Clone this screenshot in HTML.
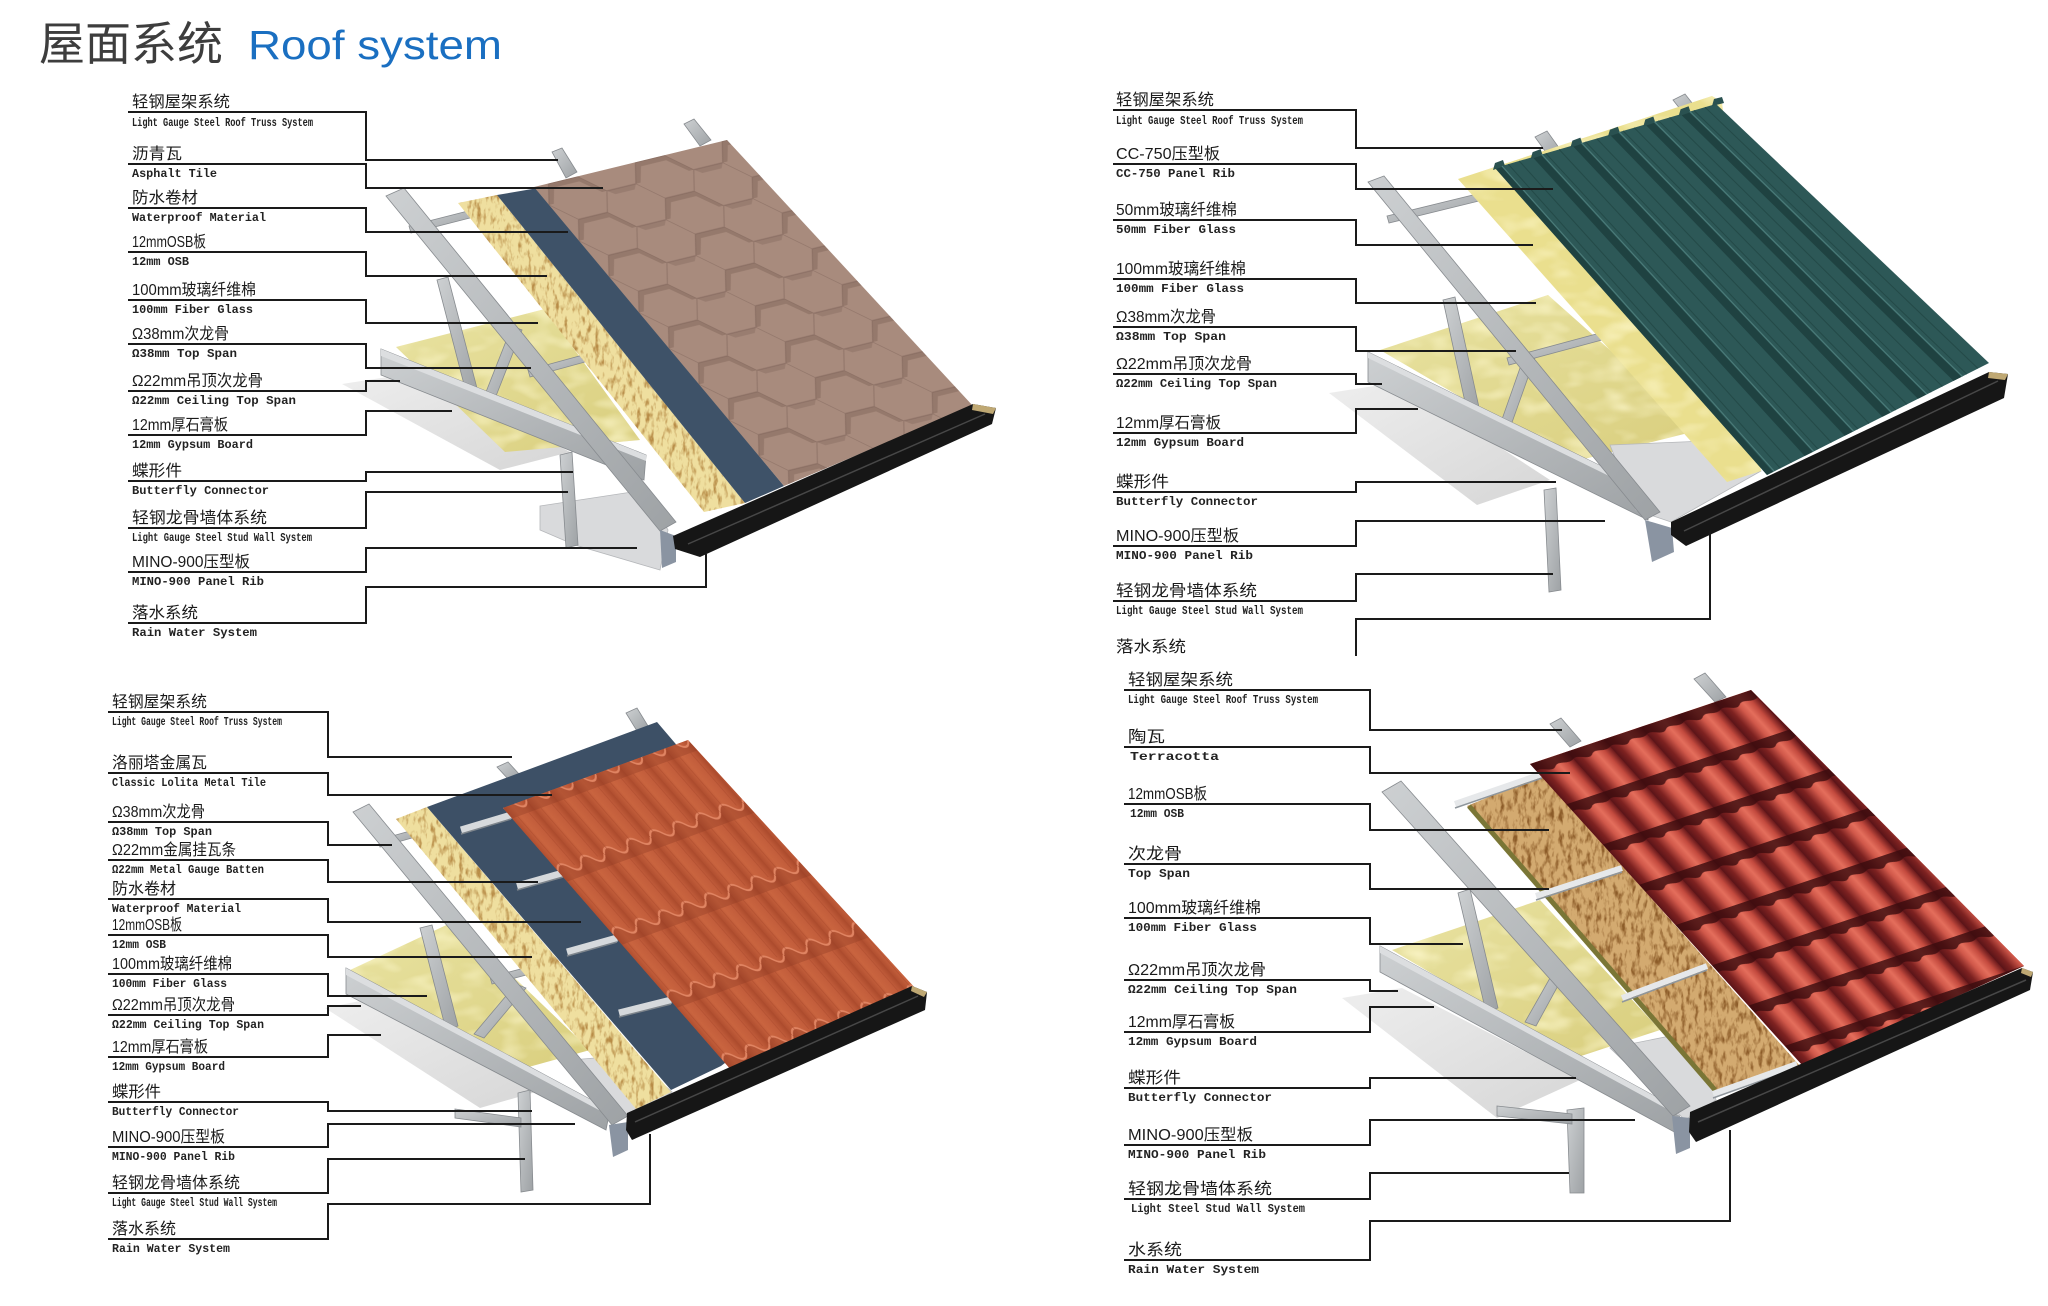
<!DOCTYPE html>
<html><head><meta charset="utf-8">
<style>
html,body{margin:0;padding:0;background:#fff}
svg{display:block}
.cn{font-family:"Liberation Sans","Noto Sans CJK SC",sans-serif;font-size:16px;fill:#1a1a1a}
.en{font-family:"Liberation Mono","Noto Sans CJK SC",monospace;font-size:12px;font-weight:bold;fill:#222}
.ln{fill:none;stroke:#1a1a1a;stroke-width:2}
.st{fill:url(#stl);stroke:#878b8f;stroke-width:0.8}
</style></head>
<body>
<svg width="2048" height="1306" viewBox="0 0 2048 1306" xmlns="http://www.w3.org/2000/svg">
<defs>
<linearGradient id="stl" x1="0" y1="0" x2="1" y2="1"><stop offset="0" stop-color="#cdd0d2"/><stop offset="1" stop-color="#9ea2a5"/></linearGradient>
<linearGradient id="ins" x1="0" y1="0" x2="1" y2="1"><stop offset="0" stop-color="#e9e3a2"/><stop offset="1" stop-color="#d9ce7d"/></linearGradient>
<linearGradient id="gyp" x1="0" y1="0" x2="1" y2="1"><stop offset="0" stop-color="#eeeeee"/><stop offset="1" stop-color="#d6d6d6"/></linearGradient>
<linearGradient id="lolG" x1="0" y1="0" x2="1" y2="0"><stop offset="0" stop-color="#b14f30"/><stop offset="0.35" stop-color="#c9643f"/><stop offset="0.7" stop-color="#c25d3b"/><stop offset="1" stop-color="#ab4a2c"/></linearGradient>
<linearGradient id="terG" x1="0" y1="0" x2="1" y2="0"><stop offset="0" stop-color="#5a1418"/><stop offset="0.2" stop-color="#7e2221"/><stop offset="0.45" stop-color="#d0584a"/><stop offset="0.6" stop-color="#e46e5c"/><stop offset="0.8" stop-color="#c34a3e"/><stop offset="1" stop-color="#6b1a1c"/></linearGradient>
<pattern id="hexP" width="45" height="12" patternUnits="userSpaceOnUse">
<path d="M0,6 L7.5,0 L22.5,0 L30,6 L27.5,6 L21.5,1.5 L8.5,1.5 L2.5,6Z" fill="#4a342a" opacity="0.2"/>
<path d="M30,6 L45,6 L42.5,7.5 L32.5,7.5Z" fill="#4a342a" opacity="0.16"/>
<path d="M0,6 L7.5,0 L22.5,0 L30,6 L22.5,12 L7.5,12 Z M30,6 L45,6" fill="none" stroke="#6f574c" stroke-width="0.4" stroke-opacity="0.35"/>
</pattern>
<pattern id="lolP" width="12.5" height="24" y="4" patternUnits="userSpaceOnUse">
<rect width="12.5" height="24" fill="url(#lolG)"/>
<path d="M0,20 Q3.1,16.5 6.25,20 T12.5,20 L12.5,24 L0,24Z" fill="#8d3a22" opacity="0.35"/>
<path d="M0,20 Q3.1,16.5 6.25,20 T12.5,20" fill="none" stroke="#e08462" stroke-width="0.7"/>
<path d="M3,0V20 M9,0V20" stroke="#a9482b" stroke-width="0.4" opacity="0.6"/>
</pattern>
<pattern id="terP" width="16.667" height="13.333" patternUnits="userSpaceOnUse">
<rect width="16.667" height="13.333" fill="url(#terG)"/>
<path d="M0,0 H16.667 V2.4 C13,3.6 11,1.3 8,2.8 C5,4.2 3,1.5 0,2.4Z" fill="#3a0b0e" opacity="0.8"/>
</pattern>
<filter id="flk" x="0" y="0" width="1" height="1" color-interpolation-filters="sRGB">
<feTurbulence type="fractalNoise" baseFrequency="0.22 0.09" numOctaves="3" seed="4"/>
<feColorMatrix type="matrix" values="0 0 0 0 0.72  0 0 0 0 0.55  0 0 0 0 0.28  3.2 0 0 0 -1.55"/>
<feComposite in2="SourceGraphic" operator="in"/>
</filter>
<filter id="flk2" x="0" y="0" width="1" height="1" color-interpolation-filters="sRGB">
<feTurbulence type="fractalNoise" baseFrequency="0.22 0.09" numOctaves="3" seed="9"/>
<feColorMatrix type="matrix" values="0 0 0 0 0.55  0 0 0 0 0.36  0 0 0 0 0.16  3.2 0 0 0 -1.5"/>
<feComposite in2="SourceGraphic" operator="in"/>
</filter>
<filter id="mot" x="0" y="0" width="1" height="1" color-interpolation-filters="sRGB">
<feTurbulence type="fractalNoise" baseFrequency="0.03 0.06" numOctaves="2" seed="2"/>
<feColorMatrix type="matrix" values="0 0 0 0 1  0 0 0 0 0.98  0 0 0 0 0.82  1.6 0 0 0 -0.72"/>
<feComposite in2="SourceGraphic" operator="in"/>
</filter>
<clipPath id="cTL"><polygon points="534,187 727,140 973,406 784,486"/></clipPath>
<clipPath id="cBL"><polygon points="503,808 688,740 915,988 732,1071"/></clipPath>
<clipPath id="cBR"><polygon points="1530,764 1751,690 2024,966 1803,1066"/></clipPath>
</defs>
<rect width="2048" height="1306" fill="#fff"/>

<!-- Title -->
<text x="39" y="60" font-family="'Liberation Sans','Noto Sans CJK SC',sans-serif" font-size="46" fill="#3d3d3d" textLength="184" lengthAdjust="spacingAndGlyphs">屋面系统</text>
<text x="248" y="59" font-family="'Liberation Sans',sans-serif" font-size="41" fill="#1a6fc1" textLength="254" lengthAdjust="spacingAndGlyphs">Roof system</text>

<!-- ===== TL roof ===== -->
<g>
<polygon class="st" points="552,152 562,148 577,172 566,178"/>
<polygon class="st" points="684,124 694,119 711,140 700,146"/>
<polygon fill="url(#gyp)" points="342,384 420,372 570,452 500,470"/>
<polygon fill="url(#ins)" points="396,347 545,309 640,440 505,452"/>
<polygon fill="#000" filter="url(#mot)" points="396,347 545,309 640,440 505,452"/>
<polygon class="st" points="437,280 448,277 478,392 467,396"/>
<polygon class="st" points="486,392 496,396 522,330 512,326"/>
<polygon class="st" points="381,349 646,455 644,480 381,375"/>
<polygon fill="#dcdee0" points="381,349 646,455 646,461 381,356"/>
<polygon fill="#d9dadc" stroke="#b5b7ba" stroke-width="0.8" points="540,506 645,490 668,530 660,570 575,545 540,530"/>
<polygon class="st" points="560,455 572,452 578,545 566,548"/>
<polygon class="st" points="409,226 468,211 470,218 411,233"/>
<polygon class="st" points="528,370 583,355 585,362 530,377"/>
<polygon class="st" points="386,196 404,188 676,522 660,531"/>
<polygon fill="#efdf9f" points="458,203 497,195 745,503 704,512"/>
<polygon fill="#000" filter="url(#flk)" points="458,203 497,195 745,503 704,512"/>
<polygon fill="#3e5268" points="497,195 538,188 784,486 745,503"/>
<polygon fill="#a88b7d" points="534,187 727,140 973,406 784,486"/>
<g clip-path="url(#cTL)"><g transform="matrix(1.93,-0.47,2.50,2.99,534,187)"><rect x="-10" y="-10" width="130" height="130" fill="url(#hexP)"/></g></g>
<polygon fill="#8a94a2" points="660,530 676,536 676,562 662,568"/>
<polygon fill="#161616" points="673,536 973,404 996,408 992,424 700,557 675,549"/>
<path d="M688,544L985,414" stroke="#474747" stroke-width="1.5"/>
<polygon fill="#bfa873" points="973,404 996,408 993,414 972,410"/>
</g>

<!-- ===== TR roof ===== -->
<g>
<polygon class="st" points="1535,137 1547,131 1562,152 1550,158"/>
<polygon class="st" points="1673,100 1685,94 1700,113 1688,119"/>
<polygon fill="url(#gyp)" points="1329,393 1400,382 1550,480 1477,505"/>
<polygon fill="url(#ins)" points="1380,350 1548,295 1700,430 1572,462"/>
<polygon fill="#000" filter="url(#mot)" points="1380,350 1548,295 1700,430 1572,462"/>
<polygon class="st" points="1443,300 1455,297 1480,412 1468,416"/>
<polygon class="st" points="1500,425 1510,428 1536,355 1526,351"/>
<polygon class="st" points="1368,352 1650,490 1648,520 1368,382"/>
<polygon fill="#dcdee0" points="1368,352 1650,490 1650,496 1368,358"/>
<polygon fill="#d9dadc" stroke="#b5b7ba" stroke-width="0.8" points="1610,445 1705,441 1761,471 1671,522 1636,510"/>
<polygon class="st" points="1544,490 1556,488 1561,590 1549,592"/>
<polygon class="st" points="1387,216 1477,194 1479,201 1389,223"/>
<polygon class="st" points="1507,358 1600,333 1602,340 1509,365"/>
<polygon class="st" points="1368,182 1384,176 1660,512 1645,520"/>
<polygon fill="#eadf8e" points="1458,179 1712,96 1722,102 1761,471 1727,482"/>
<polygon fill="#000" filter="url(#mot)" points="1458,179 1712,96 1722,102 1761,471 1727,482"/>
<polygon fill="#2d5857" points="1495,168 1716,104 1989,363 1767,475"/>
<path d="M1508.3,164.2L1780.3,468.3 M1519.3,161L1791.4,462.7 M1545.8,153.3L1818.1,449.2 M1559.1,149.4L1831.4,442.5 M1585.6,141.8L1858,429.1 M1596.7,138.6L1869.1,423.5 M1623.2,130.9L1895.8,410 M1634.2,127.7L1906.9,404.4 M1658.5,120.6L1931.3,392.1 M1669.6,117.4L1942.4,386.5 M1693.9,110.4L1966.8,374.2 M1705,107.2L1977.9,368.4" stroke="#244a48" stroke-width="1"/>
<g fill="#1f4241">
<polygon points="1495,168 1501,166 1773,472 1767,475"/>
<polygon points="1532.6,157.1 1540.6,154.6 1812.7,452 1804.7,456"/>
<polygon points="1572.4,145.6 1580.4,143.1 1852.7,431.8 1844.7,435.8"/>
<polygon points="1609.9,134.7 1617.9,132.2 1890.4,412.8 1882.4,416.8"/>
<polygon points="1645.3,124.5 1653.3,122 1926,394.8 1918,398.8"/>
<polygon points="1680.6,114.2 1688.6,111.7 1961.5,376.9 1953.5,380.9"/>
</g>
<g fill="#2a5150">
<polygon points="1493,170 1495,163 1503,160 1505,166"/>
<polygon points="1530.6,159.1 1532.6,152.1 1540.6,149.1 1542.6,155.1"/>
<polygon points="1570.4,147.6 1572.4,140.6 1580.4,137.6 1582.4,143.6"/>
<polygon points="1607.9,136.7 1609.9,129.7 1617.9,126.7 1619.9,132.7"/>
<polygon points="1643.3,126.5 1645.3,119.5 1653.3,116.5 1655.3,122.5"/>
<polygon points="1678.6,116.2 1680.6,109.2 1688.6,106.2 1690.6,112.2"/>
<polygon points="1712,106 1714,99 1722,97 1724,103"/>
</g>
<path d="M1541.6,154.1L1813.7,451.5 M1581.4,142.6L1853.7,431.3 M1618.9,131.7L1891.4,412.3 M1654.3,121.5L1927,394.3 M1689.6,111.2L1962.5,376.4 M1502,166L1774,471" stroke="#4a7a78" stroke-width="1.2"/>
<polygon fill="#8a94a2" points="1645,520 1672,528 1674,552 1652,562"/>
<polygon fill="#161616" points="1671,522 1989,372 2008,374 2004,398 1686,546 1671,535"/>
<path d="M1684,531L1998,381" stroke="#474747" stroke-width="1.5"/>
<polygon fill="#bfa873" points="1989,372 2008,374 2005,380 1988,378"/>
</g>

<!-- ===== BL roof ===== -->
<g>
<polygon class="st" points="626,713 637,708 648,726 637,731"/>
<polygon class="st" points="497,767 508,762 520,775 509,780"/>
<polygon fill="url(#gyp)" points="325,1008 380,997 560,1085 480,1108"/>
<polygon fill="url(#ins)" points="348,971 455,921 590,1050 500,1075"/>
<polygon fill="#000" filter="url(#mot)" points="348,971 455,921 590,1050 500,1075"/>
<polygon class="st" points="420,928 432,925 458,1026 446,1030"/>
<polygon class="st" points="474,1034 484,1038 526,988 516,984"/>
<polygon class="st" points="346,968 610,1110 606,1130 346,994"/>
<polygon fill="#dcdee0" points="346,968 610,1110 610,1116 346,975"/>
<polygon fill="#d9dadc" stroke="#b5b7ba" stroke-width="0.8" points="571,1060 630,1055 672,1092 630,1118 600,1105"/>
<polygon class="st" points="518,1093 530,1090 533,1190 521,1192"/>
<polygon class="st" points="455,1109 521,1118 521,1127 455,1118"/>
<polygon class="st" points="378,840 410,831 412,838 380,847"/>
<polygon class="st" points="490,977 532,966 534,973 492,984"/>
<polygon class="st" points="353,812 369,804 628,1116 612,1125"/>
<polygon fill="#efdf9f" points="396,819 427,807 671,1092 636,1109"/>
<polygon fill="#000" filter="url(#flk)" points="396,819 427,807 671,1092 636,1109"/>
<polygon fill="#3d5066" points="427,807 657,722 860,960 721,1066 671,1090"/>
<path d="M461,830L511,815 M517,886L563,873 M567,952L617,938 M619,1013L671,1000" stroke="#d6d9dc" stroke-width="7"/>
<path d="M461,834L511,819 M517,890L563,877 M567,956L617,942 M619,1017L671,1004" stroke="#7e858c" stroke-width="1.5"/>
<polygon fill="#c25e3e" points="503,808 688,740 915,988 732,1071"/>
<g clip-path="url(#cBL)"><g transform="matrix(1.85,-0.68,2.29,2.63,503,808)"><rect x="-10" y="-10" width="130" height="130" fill="url(#lolP)"/></g></g>
<polygon fill="#8a94a2" points="609,1125 628,1122 628,1150 613,1157"/>
<polygon fill="#161616" points="627,1113 912,986 927,992 925,1010 632,1140 626,1130"/>
<path d="M635,1122L918,996" stroke="#474747" stroke-width="1.5"/>
<polygon fill="#bfa873" points="912,986 927,992 924,997 911,991"/>
</g>

<!-- ===== BR roof ===== -->
<g>
<polygon class="st" points="1694,679 1705,673 1726,697 1715,702"/>
<polygon class="st" points="1550,724 1561,718 1581,741 1570,747"/>
<polygon fill="url(#gyp)" points="1342,998 1402,988 1580,1080 1497,1118"/>
<polygon fill="url(#ins)" points="1392,950 1540,900 1660,1030 1575,1058"/>
<polygon fill="#000" filter="url(#mot)" points="1392,950 1540,900 1660,1030 1575,1058"/>
<polygon class="st" points="1458,893 1470,889 1498,1008 1486,1012"/>
<polygon class="st" points="1525,1022 1536,1026 1560,982 1550,978"/>
<polygon class="st" points="1380,946 1680,1110 1678,1134 1380,972"/>
<polygon fill="#dcdee0" points="1380,946 1680,1110 1680,1116 1380,953"/>
<polygon fill="#d9dadc" stroke="#b5b7ba" stroke-width="0.8" points="1610,1048 1700,1030 1716,1100 1685,1120"/>
<polygon class="st" points="1567,1110 1584,1108 1584,1193 1570,1193"/>
<polygon class="st" points="1497,1106 1572,1114 1572,1124 1497,1116"/>
<polygon class="st" points="1382,792 1401,781 1690,1106 1673,1116"/>
<polygon fill="#d3aa70" points="1467,806 1542,775 1800,1066 1713,1091"/>
<polygon fill="#000" filter="url(#flk2)" points="1467,806 1542,775 1800,1066 1713,1091"/>
<path d="M1469,806L1715,1090" stroke="#7a7636" stroke-width="5"/>
<path d="M1455,804L1542,774 M1536,896L1622,868 M1622,998L1707,966 M1713,1094L1797,1064" stroke="#e6e8ea" stroke-width="6"/>
<path d="M1455,808L1542,778 M1536,900L1622,872 M1622,1002L1707,970 M1713,1098L1797,1068" stroke="#8f969c" stroke-width="1.5"/>
<polygon fill="#b3403a" points="1530,764 1751,690 2024,966 1803,1066"/>
<g clip-path="url(#cBR)"><g transform="matrix(2.21,-0.74,2.73,3.02,1530,764)"><rect x="-10" y="-10" width="130" height="130" fill="url(#terP)"/></g></g>
<polygon fill="#8a94a2" points="1672,1116 1690,1118 1690,1148 1676,1154"/>
<polygon fill="#161616" points="1690,1112 2022,968 2033,972 2030,990 1696,1142 1689,1132"/>
<path d="M1698,1122L2026,980" stroke="#474747" stroke-width="1.5"/>
<polygon fill="#bfa873" points="2022,968 2033,972 2031,977 2021,973"/>
</g>

<!-- ===== Connector lines ===== -->
<path class="ln" d="M128,112H366V160H558 M128,164H366V188H603 M128,208H366V232H568 M128,252H366V276H547 M128,300H366V323H538 M128,344H366V368H531 M128,391H366V381H400 M128,435H366V411H452 M128,481H366V472H573 M128,528H366V492H568 M128,572H366V548H637 M128,623H366V587H706V554"/>
<path class="ln" d="M1113,110H1356V148H1543 M1113,164H1356V189H1553 M1113,220H1356V245H1533 M1113,279H1356V303H1536 M1113,327H1356V351H1516 M1113,374H1356V384H1382 M1113,433H1356V409H1418 M1113,492H1356V482H1556 M1113,546H1356V521H1605 M1113,601H1356V574H1553 M1356,656V619H1710V531"/>
<path class="ln" d="M108,712H328V757H512 M108,773H328V795H552 M108,822H328V845H392 M108,860H328V882H538 M108,899H328V922H581 M108,935H328V957H532 M108,974H328V996H427 M108,1015H328V1006H361 M108,1057H328V1035H381 M108,1102H328V1111H532 M108,1147H328V1124H575 M108,1193H328V1159H525 M108,1239H328V1204H650V1134"/>
<path class="ln" d="M1124,690H1370V730H1562 M1124,747H1370V773H1570 M1124,804H1370V830H1549 M1124,864H1370V889H1549 M1124,918H1370V944H1463 M1124,980H1370V991H1398 M1124,1032H1370V1007H1434 M1124,1088H1370V1078H1576 M1124,1145H1370V1120H1635 M1124,1199H1370V1173H1569 M1124,1260H1370V1221H1730V1130"/>

<!-- ===== TL labels ===== -->
<g>
<text class="cn" x="132" y="107" textLength="98" lengthAdjust="spacingAndGlyphs">轻钢屋架系统</text>
<text class="en" x="132" y="126" textLength="181" lengthAdjust="spacingAndGlyphs">Light Gauge Steel Roof Truss System</text>
<text class="cn" x="132" y="159" textLength="50" lengthAdjust="spacingAndGlyphs">沥青瓦</text>
<text class="en" x="132" y="177" textLength="85" lengthAdjust="spacingAndGlyphs">Asphalt Tile</text>
<text class="cn" x="132" y="203" textLength="66" lengthAdjust="spacingAndGlyphs">防水卷材</text>
<text class="en" x="132" y="221" textLength="134" lengthAdjust="spacingAndGlyphs">Waterproof Material</text>
<text class="cn" x="132" y="247" textLength="74" lengthAdjust="spacingAndGlyphs">12mmOSB板</text>
<text class="en" x="132" y="265" textLength="57" lengthAdjust="spacingAndGlyphs">12mm OSB</text>
<text class="cn" x="132" y="295" textLength="124" lengthAdjust="spacingAndGlyphs">100mm玻璃纤维棉</text>
<text class="en" x="132" y="313" textLength="121" lengthAdjust="spacingAndGlyphs">100mm Fiber Glass</text>
<text class="cn" x="132" y="339" textLength="97" lengthAdjust="spacingAndGlyphs">Ω38mm次龙骨</text>
<text class="en" x="132" y="357" textLength="105" lengthAdjust="spacingAndGlyphs">Ω38mm Top Span</text>
<text class="cn" x="132" y="386" textLength="131" lengthAdjust="spacingAndGlyphs">Ω22mm吊顶次龙骨</text>
<text class="en" x="132" y="404" textLength="164" lengthAdjust="spacingAndGlyphs">Ω22mm Ceiling Top Span</text>
<text class="cn" x="132" y="430" textLength="96" lengthAdjust="spacingAndGlyphs">12mm厚石膏板</text>
<text class="en" x="132" y="448" textLength="121" lengthAdjust="spacingAndGlyphs">12mm Gypsum Board</text>
<text class="cn" x="132" y="476" textLength="50" lengthAdjust="spacingAndGlyphs">蝶形件</text>
<text class="en" x="132" y="494" textLength="137" lengthAdjust="spacingAndGlyphs">Butterfly Connector</text>
<text class="cn" x="132" y="523" textLength="135" lengthAdjust="spacingAndGlyphs">轻钢龙骨墙体系统</text>
<text class="en" x="132" y="541" textLength="180" lengthAdjust="spacingAndGlyphs">Light Gauge Steel Stud Wall System</text>
<text class="cn" x="132" y="567" textLength="118" lengthAdjust="spacingAndGlyphs">MINO-900压型板</text>
<text class="en" x="132" y="585" textLength="132" lengthAdjust="spacingAndGlyphs">MINO-900 Panel Rib</text>
<text class="cn" x="132" y="618" textLength="66" lengthAdjust="spacingAndGlyphs">落水系统</text>
<text class="en" x="132" y="636" textLength="125" lengthAdjust="spacingAndGlyphs">Rain Water System</text>
</g>

<!-- ===== TR labels ===== -->
<g>
<text class="cn" x="1116" y="105" textLength="98" lengthAdjust="spacingAndGlyphs">轻钢屋架系统</text>
<text class="en" x="1116" y="124" textLength="187" lengthAdjust="spacingAndGlyphs">Light Gauge Steel Roof Truss System</text>
<text class="cn" x="1116" y="159" textLength="104" lengthAdjust="spacingAndGlyphs">CC-750压型板</text>
<text class="en" x="1116" y="177" textLength="119" lengthAdjust="spacingAndGlyphs">CC-750 Panel Rib</text>
<text class="cn" x="1116" y="215" textLength="121" lengthAdjust="spacingAndGlyphs">50mm玻璃纤维棉</text>
<text class="en" x="1116" y="233" textLength="120" lengthAdjust="spacingAndGlyphs">50mm Fiber Glass</text>
<text class="cn" x="1116" y="274" textLength="130" lengthAdjust="spacingAndGlyphs">100mm玻璃纤维棉</text>
<text class="en" x="1116" y="292" textLength="128" lengthAdjust="spacingAndGlyphs">100mm Fiber Glass</text>
<text class="cn" x="1116" y="322" textLength="100" lengthAdjust="spacingAndGlyphs">Ω38mm次龙骨</text>
<text class="en" x="1116" y="340" textLength="110" lengthAdjust="spacingAndGlyphs">Ω38mm Top Span</text>
<text class="cn" x="1116" y="369" textLength="136" lengthAdjust="spacingAndGlyphs">Ω22mm吊顶次龙骨</text>
<text class="en" x="1116" y="387" textLength="161" lengthAdjust="spacingAndGlyphs">Ω22mm Ceiling Top Span</text>
<text class="cn" x="1116" y="428" textLength="105" lengthAdjust="spacingAndGlyphs">12mm厚石膏板</text>
<text class="en" x="1116" y="446" textLength="128" lengthAdjust="spacingAndGlyphs">12mm Gypsum Board</text>
<text class="cn" x="1116" y="487" textLength="53" lengthAdjust="spacingAndGlyphs">蝶形件</text>
<text class="en" x="1116" y="505" textLength="142" lengthAdjust="spacingAndGlyphs">Butterfly Connector</text>
<text class="cn" x="1116" y="541" textLength="123" lengthAdjust="spacingAndGlyphs">MINO-900压型板</text>
<text class="en" x="1116" y="559" textLength="137" lengthAdjust="spacingAndGlyphs">MINO-900 Panel Rib</text>
<text class="cn" x="1116" y="596" textLength="141" lengthAdjust="spacingAndGlyphs">轻钢龙骨墙体系统</text>
<text class="en" x="1116" y="614" textLength="187" lengthAdjust="spacingAndGlyphs">Light Gauge Steel Stud Wall System</text>
<text class="cn" x="1116" y="652" textLength="70" lengthAdjust="spacingAndGlyphs">落水系统</text>
</g>

<!-- ===== BL labels ===== -->
<g>
<text class="cn" x="112" y="707" textLength="95" lengthAdjust="spacingAndGlyphs">轻钢屋架系统</text>
<text class="en" x="112" y="725" textLength="170" lengthAdjust="spacingAndGlyphs">Light Gauge Steel Roof Truss System</text>
<text class="cn" x="112" y="768" textLength="95" lengthAdjust="spacingAndGlyphs">洛丽塔金属瓦</text>
<text class="en" x="112" y="786" textLength="154" lengthAdjust="spacingAndGlyphs">Classic Lolita Metal Tile</text>
<text class="cn" x="112" y="817" textLength="93" lengthAdjust="spacingAndGlyphs">Ω38mm次龙骨</text>
<text class="en" x="112" y="835" textLength="100" lengthAdjust="spacingAndGlyphs">Ω38mm Top Span</text>
<text class="cn" x="112" y="855" textLength="124" lengthAdjust="spacingAndGlyphs">Ω22mm金属挂瓦条</text>
<text class="en" x="112" y="873" textLength="152" lengthAdjust="spacingAndGlyphs">Ω22mm Metal Gauge Batten</text>
<text class="cn" x="112" y="894" textLength="64" lengthAdjust="spacingAndGlyphs">防水卷材</text>
<text class="en" x="112" y="912" textLength="129" lengthAdjust="spacingAndGlyphs">Waterproof Material</text>
<text class="cn" x="112" y="930" textLength="70" lengthAdjust="spacingAndGlyphs">12mmOSB板</text>
<text class="en" x="112" y="948" textLength="54" lengthAdjust="spacingAndGlyphs">12mm OSB</text>
<text class="cn" x="112" y="969" textLength="120" lengthAdjust="spacingAndGlyphs">100mm玻璃纤维棉</text>
<text class="en" x="112" y="987" textLength="115" lengthAdjust="spacingAndGlyphs">100mm Fiber Glass</text>
<text class="cn" x="112" y="1010" textLength="123" lengthAdjust="spacingAndGlyphs">Ω22mm吊顶次龙骨</text>
<text class="en" x="112" y="1028" textLength="152" lengthAdjust="spacingAndGlyphs">Ω22mm Ceiling Top Span</text>
<text class="cn" x="112" y="1052" textLength="96" lengthAdjust="spacingAndGlyphs">12mm厚石膏板</text>
<text class="en" x="112" y="1070" textLength="113" lengthAdjust="spacingAndGlyphs">12mm Gypsum Board</text>
<text class="cn" x="112" y="1097" textLength="49" lengthAdjust="spacingAndGlyphs">蝶形件</text>
<text class="en" x="112" y="1115" textLength="127" lengthAdjust="spacingAndGlyphs">Butterfly Connector</text>
<text class="cn" x="112" y="1142" textLength="113" lengthAdjust="spacingAndGlyphs">MINO-900压型板</text>
<text class="en" x="112" y="1160" textLength="123" lengthAdjust="spacingAndGlyphs">MINO-900 Panel Rib</text>
<text class="cn" x="112" y="1188" textLength="128" lengthAdjust="spacingAndGlyphs">轻钢龙骨墙体系统</text>
<text class="en" x="112" y="1206" textLength="165" lengthAdjust="spacingAndGlyphs">Light Gauge Steel Stud Wall System</text>
<text class="cn" x="112" y="1234" textLength="64" lengthAdjust="spacingAndGlyphs">落水系统</text>
<text class="en" x="112" y="1252" textLength="118" lengthAdjust="spacingAndGlyphs">Rain Water System</text>
</g>

<!-- ===== BR labels ===== -->
<g>
<text class="cn" x="1128" y="685" textLength="105" lengthAdjust="spacingAndGlyphs">轻钢屋架系统</text>
<text class="en" x="1128" y="703" textLength="190" lengthAdjust="spacingAndGlyphs">Light Gauge Steel Roof Truss System</text>
<text class="cn" x="1128" y="742" textLength="37" lengthAdjust="spacingAndGlyphs">陶瓦</text>
<text class="en" x="1130" y="760" textLength="89" lengthAdjust="spacingAndGlyphs">Terracotta</text>
<text class="cn" x="1128" y="799" textLength="79" lengthAdjust="spacingAndGlyphs">12mmOSB板</text>
<text class="en" x="1130" y="817" textLength="54" lengthAdjust="spacingAndGlyphs">12mm OSB</text>
<text class="cn" x="1128" y="859" textLength="54" lengthAdjust="spacingAndGlyphs">次龙骨</text>
<text class="en" x="1128" y="877" textLength="62" lengthAdjust="spacingAndGlyphs">Top Span</text>
<text class="cn" x="1128" y="913" textLength="133" lengthAdjust="spacingAndGlyphs">100mm玻璃纤维棉</text>
<text class="en" x="1128" y="931" textLength="129" lengthAdjust="spacingAndGlyphs">100mm Fiber Glass</text>
<text class="cn" x="1128" y="975" textLength="138" lengthAdjust="spacingAndGlyphs">Ω22mm吊顶次龙骨</text>
<text class="en" x="1128" y="993" textLength="169" lengthAdjust="spacingAndGlyphs">Ω22mm Ceiling Top Span</text>
<text class="cn" x="1128" y="1027" textLength="107" lengthAdjust="spacingAndGlyphs">12mm厚石膏板</text>
<text class="en" x="1128" y="1045" textLength="129" lengthAdjust="spacingAndGlyphs">12mm Gypsum Board</text>
<text class="cn" x="1128" y="1083" textLength="53" lengthAdjust="spacingAndGlyphs">蝶形件</text>
<text class="en" x="1128" y="1101" textLength="144" lengthAdjust="spacingAndGlyphs">Butterfly Connector</text>
<text class="cn" x="1128" y="1140" textLength="125" lengthAdjust="spacingAndGlyphs">MINO-900压型板</text>
<text class="en" x="1128" y="1158" textLength="138" lengthAdjust="spacingAndGlyphs">MINO-900 Panel Rib</text>
<text class="cn" x="1128" y="1194" textLength="144" lengthAdjust="spacingAndGlyphs">轻钢龙骨墙体系统</text>
<text class="en" x="1131" y="1212" textLength="174" lengthAdjust="spacingAndGlyphs">Light Steel Stud Wall System</text>
<text class="cn" x="1128" y="1255" textLength="54" lengthAdjust="spacingAndGlyphs">水系统</text>
<text class="en" x="1128" y="1273" textLength="131" lengthAdjust="spacingAndGlyphs">Rain Water System</text>
</g>
</svg>
</body></html>
